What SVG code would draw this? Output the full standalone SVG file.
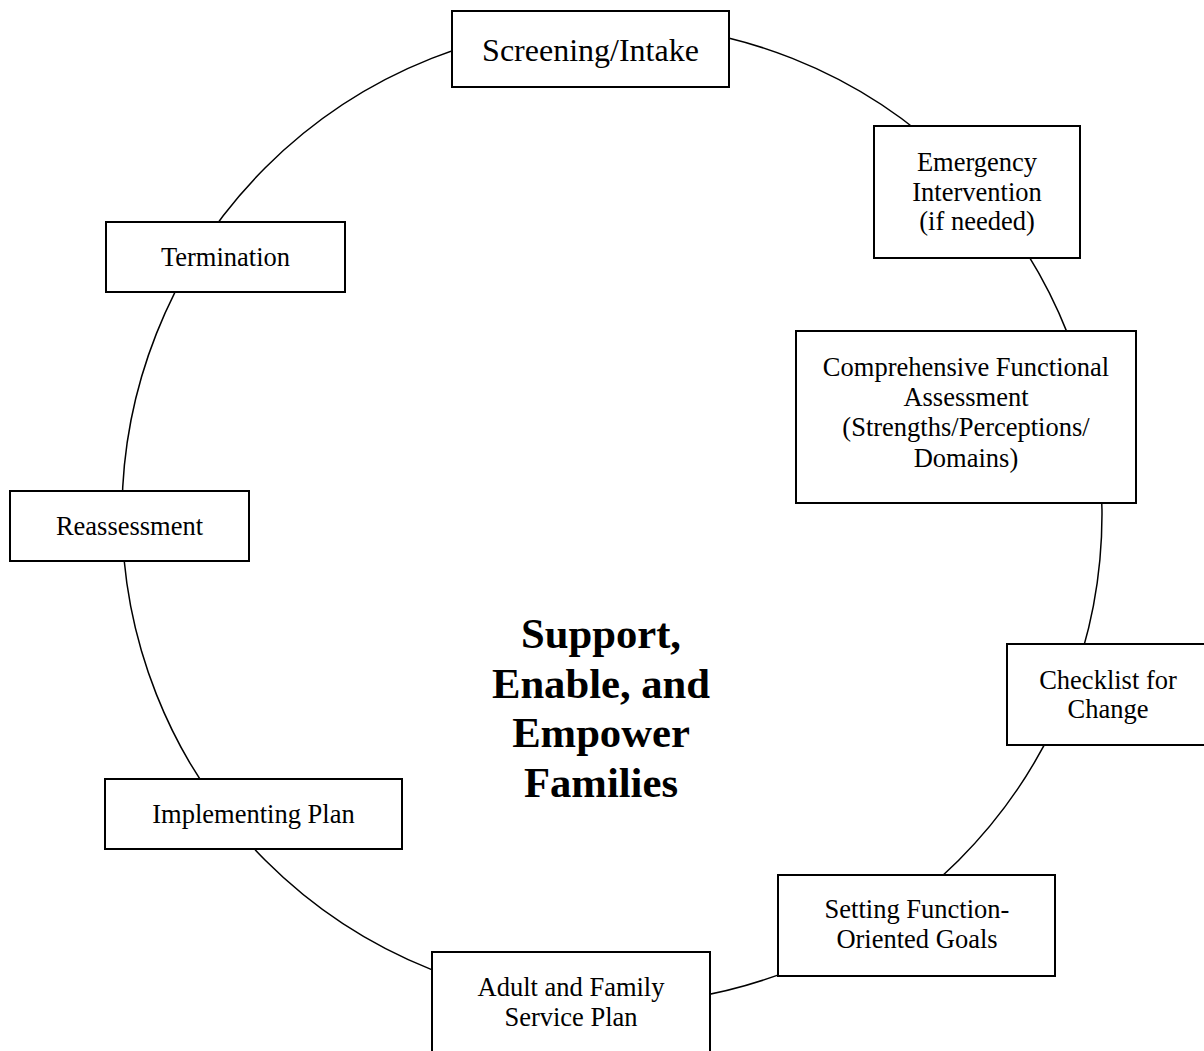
<svg xmlns="http://www.w3.org/2000/svg" width="1204" height="1051" viewBox="0 0 1204 1051">
<style>
.box{fill:#fff;stroke:#000;stroke-width:2}
.lbl{font-family:"Liberation Serif","Times New Roman",serif;font-size:26.5px;fill:#000;text-anchor:middle}
.big{font-size:32px}
.center{font-family:"Liberation Serif","Times New Roman",serif;font-size:42.67px;font-weight:bold;fill:#000;text-anchor:middle}
.ring{fill:none;stroke:#000;stroke-width:1.5}
</style>
<rect width="1204" height="1051" fill="#fff"/>
<g id="connectors">
<circle class="ring" cx="612" cy="514" r="490"/>
</g>
<g id="screening">
<rect class="box" x="452" y="11" width="277" height="76"/>
<text class="lbl big" x="590.5" y="60.5">Screening/Intake</text>
</g>
<g id="emergency">
<rect class="box" x="874" y="126" width="206" height="132"/>
<text class="lbl" x="977" y="171">Emergency</text>
<text class="lbl" x="977" y="200.5">Intervention</text>
<text class="lbl" x="977" y="230">(if needed)</text>
</g>
<g id="comprehensive">
<rect class="box" x="796" y="331" width="340" height="172"/>
<text class="lbl" x="966" y="375.5">Comprehensive Functional</text>
<text class="lbl" x="966" y="405.5">Assessment</text>
<text class="lbl" x="966" y="436">(Strengths/Perceptions/</text>
<text class="lbl" x="966" y="466.5">Domains)</text>
</g>
<g id="checklist">
<rect class="box" x="1007" y="644" width="202" height="101"/>
<text class="lbl" x="1108" y="688.5">Checklist for</text>
<text class="lbl" x="1108" y="718">Change</text>
</g>
<g id="setting">
<rect class="box" x="778" y="875" width="277" height="101"/>
<text class="lbl" x="917" y="918">Setting Function-</text>
<text class="lbl" x="917" y="948">Oriented Goals</text>
</g>
<g id="adult">
<rect class="box" x="432" y="952" width="278" height="102"/>
<text class="lbl" x="571" y="996">Adult and Family</text>
<text class="lbl" x="571" y="1026">Service Plan</text>
</g>
<g id="implementing">
<rect class="box" x="105" y="779" width="297" height="70"/>
<text class="lbl" x="253.5" y="823">Implementing Plan</text>
</g>
<g id="reassessment">
<rect class="box" x="10" y="491" width="239" height="70"/>
<text class="lbl" x="129.5" y="535">Reassessment</text>
</g>
<g id="termination">
<rect class="box" x="106" y="222" width="239" height="70"/>
<text class="lbl" x="225.5" y="266">Termination</text>
</g>
<g id="center-title">
<text class="center" x="601" y="648">Support,</text>
<text class="center" x="601" y="697.5">Enable, and</text>
<text class="center" x="601" y="747">Empower</text>
<text class="center" x="601" y="796.5">Families</text>
</g>
</svg>
